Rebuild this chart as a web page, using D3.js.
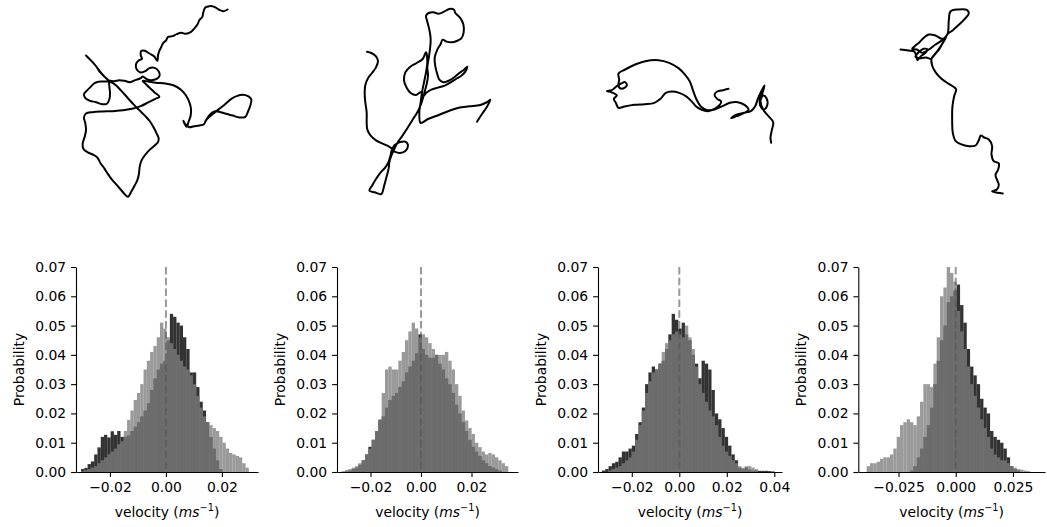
<!DOCTYPE html>
<html><head><meta charset="utf-8">
<script src="https://cdn.jsdelivr.net/npm/d3@7"></script>
<style>
body{margin:0;background:#fff}
svg{display:block}
text{font-family:"DejaVu Sans",sans-serif}
</style>
</head><body>
<svg id="c" width="1047" height="527"></svg>
<script>
// ---------------- DATA ----------------
// histogram bin grids (velocity, m/s)
const binStart = [-0.03035, -0.03142, -0.03259, -0.03892];
const binWidth = [0.001176, 0.00132, 0.0013986, 0.0014577];
// axis limits and ticks (velocity, m/s)
const xLimits = [[-0.03214, 0.0329], [-0.03327, 0.03842], [-0.03423, 0.04324], [-0.04257, 0.0390]];
const xTicks = [[-0.02, 0, 0.02], [-0.02, 0, 0.02], [-0.02, 0, 0.02, 0.04], [-0.025, 0, 0.025]];
const xTickDecimals = [2, 2, 2, 3];
const yTicks = [0, 0.01, 0.02, 0.03, 0.04, 0.05, 0.06, 0.07];
const yLimit = [0, 0.07];

// probability per bin: dark series
const dark1 = [0.001,0.0014,0.0027,0.0036,0.006,0.0084,0.012,0.0127,0.0118,0.0139,0.0127,0.014,0.012,0.012,0.0125,0.014,0.0155,0.017,0.019,0.021,0.0235,0.028,0.032,0.035,0.037,0.038,0.045,0.054,0.053,0.051,0.050,0.046,0.042,0.034,0.034,0.029,0.024,0.021,0.017,0.012,0.008,0.004,0.001,0,0,0,0,0,0,0,0];
const dark2 = [0,0.0002,0.0005,0.001,0.0015,0.0025,0.004,0.006,0.0086,0.011,0.014,0.0178,0.019,0.022,0.0246,0.026,0.027,0.029,0.031,0.034,0.036,0.038,0.0406,0.047,0.042,0.040,0.039,0.039,0.040,0.037,0.035,0.032,0.030,0.027,0.023,0.020,0.017,0.014,0.011,0.0086,0.007,0.0055,0.004,0.003,0.002,0.0015,0.001,0.0005,0,0];
const dark3 = [0.0005,0.001,0.002,0.003,0.0035,0.005,0.007,0.007,0.008,0.009,0.013,0.017,0.022,0.030,0.034,0.036,0.035,0.037,0.038,0.042,0.047,0.054,0.052,0.049,0.051,0.047,0.045,0.040,0.037,0.032,0.038,0.037,0.035,0.028,0.020,0.018,0.015,0.012,0.009,0.006,0.004,0.0015,0.001,0.0015,0.0008,0.0005,0.0005,0.0004,0.0004,0.0004,0.0003,0.0002];
const dark4 = [0,0,0,0,0,0,0,0,0,0,0,0,0,0.0005,0.002,0.005,0.008,0.012,0.016,0.022,0.030,0.038,0.045,0.050,0.058,0.060,0.062,0.064,0.057,0.051,0.042,0.036,0.033,0.030,0.025,0.022,0.020,0.014,0.012,0.011,0.010,0.008,0.005,0.002,0.001,0.0005,0,0,0];
// probability per bin: light series
const light1 = [0.0003,0.0006,0.001,0.0015,0.002,0.003,0.004,0.005,0.006,0.007,0.008,0.0095,0.0105,0.014,0.0178,0.021,0.0246,0.027,0.030,0.035,0.038,0.041,0.043,0.046,0.051,0.049,0.046,0.044,0.042,0.040,0.038,0.036,0.035,0.033,0.030,0.026,0.022,0.019,0.017,0.016,0.015,0.014,0.012,0.010,0.008,0.0065,0.006,0.0055,0.005,0.003,0.0015];
const light2 = [0.0003,0.0007,0.001,0.0015,0.002,0.003,0.004,0.006,0.008,0.011,0.014,0.018,0.027,0.035,0.036,0.035,0.035,0.038,0.041,0.045,0.048,0.051,0.049,0.046,0.047,0.046,0.044,0.042,0.040,0.040,0.040,0.041,0.038,0.035,0.030,0.026,0.021,0.0176,0.015,0.013,0.010,0.0085,0.007,0.006,0.0065,0.006,0.005,0.004,0.003,0.002];
const light3 = [0,0,0.0005,0.001,0.0015,0.002,0.003,0.004,0.005,0.007,0.011,0.016,0.021,0.027,0.031,0.034,0.035,0.037,0.041,0.044,0.045,0.047,0.048,0.047,0.046,0.050,0.046,0.042,0.036,0.030,0.027,0.024,0.021,0.019,0.016,0.012,0.009,0.007,0.0055,0.004,0.003,0.002,0.0015,0.002,0.002,0.0015,0.001,0,0,0,0,0];
const light4 = [0.002,0.003,0.003,0.0035,0.0045,0.005,0.005,0.006,0.008,0.012,0.016,0.017,0.018,0.017,0.016,0.019,0.024,0.030,0.030,0.029,0.037,0.046,0.060,0.063,0.070,0.068,0.065,0.055,0.048,0.042,0.036,0.030,0.026,0.022,0.018,0.015,0.012,0.008,0.006,0.005,0.004,0.004,0.003,0.002,0.0015,0.001,0.0008,0.0005,0.0003];
const darkSeries = [dark1, dark2, dark3, dark4];
const lightSeries = [light1, light2, light3, light4];

// trajectories (positions in mm, y pointing down the arena image)
const traj1 = [[505,28],[492,33],[478,28],[465,20],[450,18],[438,22],[432,36],[429,50],[420,60],[414,74],[404,86],[394,96],[380,101],[366,98],[352,102],[340,108],[326,110],[320,121],[312,128],[306,140],[300,152],[296,166],[294,182],[284,168],[270,160],[256,152],[246,152],[244,165],[248,176],[238,181],[230,192],[232,207],[244,217],[258,213],[270,204],[286,203],[298,213],[301,226],[292,236],[276,240],[262,237],[250,229],[244,234],[228,240],[212,246],[196,242],[180,240],[164,243],[150,242],[150,258],[152,278],[150,298],[142,311],[128,312],[110,306],[92,302],[78,294],[74,282],[84,270],[96,258],[104,250],[112,246],[130,244],[148,243],[136,230],[122,216],[110,198],[96,182],[80,166],[82,168],[97,183],[111,199],[124,217],[138,232],[152,244],[168,254],[186,272],[204,292],[222,312],[240,330],[258,348],[272,364],[283,382],[291,398],[298,414],[296,426],[286,436],[270,450],[256,466],[246,482],[241,500],[239,520],[234,540],[226,556],[216,574],[206,590],[196,582],[184,568],[170,552],[156,536],[146,522],[136,506],[124,490],[114,472],[100,463],[84,456],[72,446],[70,430],[76,410],[80,390],[78,370],[74,352],[80,340],[100,336],[130,334],[160,333],[190,330],[218,326],[244,318],[268,306],[288,296],[300,290],[285,276],[270,262],[258,250],[250,242],[266,244],[290,248],[318,250],[344,256],[364,268],[380,286],[390,306],[395,326],[394,346],[388,364],[382,380],[372,362],[378,372],[390,381],[404,378],[420,376],[434,372],[440,360],[450,350],[462,340],[474,330],[488,320],[502,308],[516,296],[532,288],[550,284],[566,288],[576,298],[573,316],[566,334],[558,350],[540,352],[520,346],[500,341],[484,336],[468,333],[455,340],[445,352],[440,362]];
const traj2 = [[85,158],[98,162],[112,172],[118,186],[112,205],[100,222],[88,238],[80,258],[78,282],[80,310],[84,340],[84,370],[86,392],[96,410],[112,424],[132,434],[150,442],[160,448],[168,438],[182,430],[200,428],[208,440],[200,456],[184,462],[168,458],[160,452],[156,468],[150,488],[140,505],[126,520],[112,540],[100,560],[92,575],[108,580],[128,585],[136,562],[144,532],[150,508],[152,490],[158,470],[166,452],[176,432],[190,412],[206,388],[222,362],[236,340],[246,318],[252,300],[258,278],[264,255],[268,230],[266,205],[270,178],[274,150],[276,120],[272,92],[266,68],[262,50],[270,42],[284,40],[300,44],[316,38],[332,30],[346,32],[350,42],[364,56],[374,76],[375,100],[368,118],[354,126],[340,130],[324,128],[312,122],[306,135],[296,152],[288,176],[290,202],[296,226],[302,242],[314,250],[332,244],[348,234],[362,222],[376,212],[386,203],[380,218],[368,230],[352,240],[336,250],[318,260],[298,266],[278,272],[262,282],[254,292],[246,280],[232,288],[216,282],[204,266],[196,244],[200,220],[214,204],[234,192],[252,180],[262,160],[266,190],[262,220],[256,250],[250,280],[246,310],[242,340],[246,372],[268,360],[300,348],[330,336],[360,326],[392,322],[425,318],[448,308],[455,302],[444,325],[430,345],[415,368]];
const traj3 = [[410,88],[394,92],[376,96],[368,106],[376,118],[388,126],[382,138],[368,148],[348,155],[328,150],[312,140],[298,124],[282,110],[262,100],[240,96],[222,100],[206,118],[186,131],[158,134],[128,136],[98,141],[80,145],[72,130],[66,118],[75,108],[58,98],[45,95],[60,92],[75,80],[88,72],[100,68],[105,78],[90,88],[80,80],[82,60],[80,42],[100,30],[130,15],[160,5],[200,2],[232,10],[260,26],[280,46],[294,66],[304,94],[314,120],[328,142],[346,152],[368,150],[392,140],[414,130],[438,128],[458,136],[470,150],[454,162],[434,170],[418,176],[432,166],[458,160],[478,154],[490,140],[498,118],[508,96],[518,78],[512,100],[504,120],[506,140],[516,150],[526,138],[524,116],[514,108],[506,124],[514,150],[528,168],[544,188],[540,212],[536,234],[538,250]];
const traj4 = [[55,150],[78,153],[96,156],[102,168],[106,182],[116,170],[130,160],[136,150],[124,148],[110,158],[100,172],[118,176],[132,174],[146,178],[160,162],[172,148],[182,130],[190,116],[178,118],[160,108],[140,105],[126,114],[112,128],[98,140],[90,148],[104,150],[120,160],[140,150],[160,135],[180,122],[196,104],[200,62],[205,36],[228,30],[254,31],[260,42],[248,58],[230,76],[212,92],[196,104],[188,120],[176,140],[162,160],[148,178],[150,198],[160,218],[178,238],[198,252],[214,262],[222,270],[216,290],[211,320],[210,360],[212,400],[220,424],[236,434],[260,440],[280,438],[290,422],[296,408],[306,414],[320,420],[330,440],[328,464],[334,484],[350,492],[348,510],[340,526],[345,542],[350,556],[344,570],[330,576],[346,580],[362,582]];
const trajectories = [traj1, traj2, traj3, traj4];

// ---------------- LAYOUT ----------------
const axLeft = [76, 337, 598, 858.3];
const axRight = [258, 518, 782, 1045];
const yTop = 267, yBot = 472;
const trajCenterY = 101.5;
const trajPxPerMm = 1/3;
const FS = 13.9;

const svg = d3.select("#c");

// trajectories
trajectories.forEach((tr, p) => {
  const [x0, x1] = d3.extent(tr, d => d[0]);
  const [y0, y1] = d3.extent(tr, d => d[1]);
  const cx = (axLeft[p] + axRight[p]) / 2;
  const hw = (x1 - x0) * trajPxPerMm / 2, hh = (y1 - y0) * trajPxPerMm / 2;
  const sx = d3.scaleLinear().domain([x0, x1]).range([cx - hw, cx + hw]);
  const sy = d3.scaleLinear().domain([y0, y1]).range([trajCenterY - hh, trajCenterY + hh]);
  svg.append("path")
    .attr("d", d3.line().x(d => sx(d[0])).y(d => sy(d[1])).curve(d3.curveCatmullRom.alpha(0.5))(tr))
    .attr("fill", "none").attr("stroke", "#000").attr("stroke-width", 2)
    .attr("stroke-linejoin", "round").attr("stroke-linecap", "round");
});

// histograms
for (let p = 0; p < 4; p++) {
  const xs = d3.scaleLinear().domain(xLimits[p]).range([axLeft[p], axRight[p]]);
  const ys = d3.scaleLinear().domain(yLimit).range([yBot, yTop]);
  const g = svg.append("g");

  const drawBars = (vals, fill) => {
    g.append("g").selectAll("rect").data(vals).join("rect")
      .attr("x", (d, i) => xs(binStart[p] + i * binWidth[p]))
      .attr("width", (d, i) => xs(binStart[p] + (i + 1) * binWidth[p]) - xs(binStart[p] + i * binWidth[p]))
      .attr("y", d => ys(d))
      .attr("height", d => ys(0) - ys(d))
      .attr("fill", fill);
  };
  drawBars(darkSeries[p], "rgba(0,0,0,0.8)");
  drawBars(lightSeries[p], "rgba(125,125,125,0.775)");

  // dashed zero line
  g.append("line")
    .attr("x1", xs(0)).attr("x2", xs(0)).attr("y1", ys(yLimit[1])).attr("y2", ys(0))
    .attr("stroke", "#555").attr("stroke-opacity", 0.6).attr("stroke-width", 2)
    .attr("stroke-dasharray", "7.5,3.3");

  // axes
  const fmtX = d3.format("." + xTickDecimals[p] + "f");
  const ax = g.append("g").attr("transform", `translate(0,${yBot})`)
    .call(d3.axisBottom(xs).tickValues(xTicks[p]).tickFormat(fmtX).tickSize(4.9).tickSizeOuter(0).tickPadding(4.9));
  const ay = g.append("g").attr("transform", `translate(${axLeft[p]},0)`)
    .call(d3.axisLeft(ys).tickValues(yTicks).tickFormat(d3.format(".2f")).tickSize(4.9).tickSizeOuter(0).tickPadding(4.9));
  [ax, ay].forEach(a => {
    a.select(".domain").attr("stroke", "#000").attr("stroke-width", 1.1);
    a.selectAll(".tick line").attr("stroke", "#000").attr("stroke-width", 1.1);
    a.selectAll(".tick text").attr("font-size", FS).attr("fill", "#000")
      .attr("font-family", '"DejaVu Sans", sans-serif');
  });

  // labels
  g.append("text")
    .attr("transform", `translate(${axLeft[p] - 52.5},${(yTop + yBot) / 2}) rotate(-90)`)
    .attr("text-anchor", "middle").attr("font-size", FS).attr("fill", "#000")
    .text("Probability");
  const xl = g.append("text")
    .attr("x", (axLeft[p] + axRight[p]) / 2).attr("y", 517)
    .attr("text-anchor", "middle").attr("font-size", FS).attr("fill", "#000");
  xl.append("tspan").text("velocity (");
  xl.append("tspan").attr("font-style", "italic").text("ms");
  xl.append("tspan").attr("font-size", FS * 0.7).attr("dy", -6).text("\u22121");
  xl.append("tspan").attr("dy", 6).text(")");
}
</script>
</body></html>
